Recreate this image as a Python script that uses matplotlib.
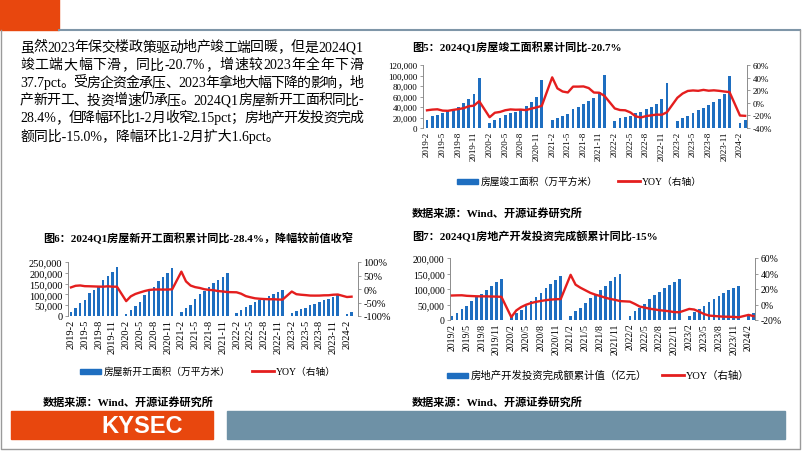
import numpy as np
import matplotlib
matplotlib.use('Agg')
import matplotlib.pyplot as plt
from matplotlib.patches import Rectangle
from matplotlib.lines import Line2D

W, H = 802, 452
CN = ['Liberation Serif', 'Noto Sans CJK SC']
plt.rcParams['font.family'] = CN

BLUE = '#1E6EC0'
RED = '#E41E1E'
GREY = '#8C8C8C'
ORANGE = '#E8470E'

# months Feb..Dec each year (no January data), then 2024-2, 2024-3
months = [(y, m) for y in range(2019, 2024) for m in range(2, 13)] + [(2024, 2), (2024, 3)]

# 房屋竣工面积（万平方米）, cumulative
completed = [15709, 22199, 25324, 28166, 32141, 35015, 39232, 47479, 55028, 63846, 95942,
             10286, 15557, 19286, 24842, 28766, 31163, 34995, 41971, 49965, 59173, 91218,
             15218, 19282, 22697, 26542, 36481, 40403, 45445, 51013, 57289, 68733, 101412,
             13906, 18331, 20344, 23140, 28636, 31063, 35856, 40879, 46565, 55709, 86222,
             13185, 19422, 22736, 27623, 33904, 38405, 43726, 48705, 55151, 65237, 99831,
             10395, 15534]
completed_yoy = [-11.9, -10.8, -10.3, -12.4, -12.7, -11.3, -10.0, -8.6, -5.5, -4.5, 2.6,
                 -22.9, -15.8, -14.5, -11.8, -10.5, -11.0, -10.8, -11.6, -9.2, -7.3, -4.9,
                 40.4, 22.9, 17.9, 16.4, 25.7, 25.7, 26.0, 23.4, 16.3, 16.0, 11.2,
                 -9.0, -11.5, -11.9, -15.3, -21.5, -23.3, -21.1, -19.9, -18.7, -19.0, -15.0,
                 8.0, 14.7, 18.8, 19.6, 19.0, 20.5, 19.2, 19.8, 19.0, 17.9, 17.0,
                 -20.2, -20.7]

# 房屋新开工面积（万平方米）
new_starts = [18814, 38728, 58002, 75945, 105509, 120296, 136549, 165707, 185634, 205194, 227154,
              10370, 28203, 47330, 66224, 97536, 115965, 133955, 162724, 181550, 201000, 224433,
              17038, 36163, 53000, 79000, 101000, 117000, 135000, 152944, 166736, 182820, 198895,
              15144, 29638, 39739, 51628, 66423, 76000, 85000, 94767, 103722, 111632, 120587,
              13567, 24121, 31400, 39000, 49880, 56969, 63891, 72123, 79177, 87456, 95376,
              9429, 17308]
new_starts_yoy = [6.0, 11.9, 13.1, 10.5, 10.1, 9.5, 8.9, 8.6, 10.0, 8.6, 8.5,
                  -44.9, -27.2, -18.4, -12.8, -7.6, -3.6, -1.9, -1.8, -2.2, -2.0, -1.2,
                  64.3, 28.2, 12.8, 6.9, 3.8, -0.9, -3.2, -4.5, -7.7, -9.1, -11.4,
                  -12.2, -17.5, -26.3, -30.6, -34.4, -36.1, -37.2, -38.0, -37.8, -38.9, -39.4,
                  -9.4, -19.2, -21.2, -22.6, -24.3, -24.5, -24.4, -23.4, -23.2, -21.2, -20.4,
                  -29.7, -28.4]

# 房地产开发投资完成额累计值（亿元）
investment = [12090, 23803, 34217, 46075, 61609, 72843, 84589, 98008, 109603, 121265, 132194,
              10115, 21963, 33103, 45920, 62780, 75325, 88454, 103484, 116556, 129492, 141443,
              13986, 27576, 40240, 54318, 72179, 84895, 98011, 110783, 124934, 137688, 147602,
              14499, 27765, 39154, 52134, 68314, 79462, 90809, 103559, 113945, 123863, 132895,
              13669, 25974, 35514, 45701, 58550, 67717, 76900, 87269, 95922, 104045, 110913,
              11842, 22082]
investment_yoy = [11.6, 11.8, 11.9, 11.2, 10.9, 10.6, 10.5, 10.5, 10.3, 10.2, 9.9,
                  -16.3, -7.7, -3.3, -0.3, 1.9, 3.4, 4.6, 5.6, 6.3, 6.8, 7.0,
                  38.3, 25.6, 21.6, 18.3, 15.0, 12.7, 10.9, 8.8, 7.2, 6.0, 4.4,
                  3.7, 0.7, -2.7, -4.0, -5.4, -6.4, -7.4, -8.0, -8.8, -9.8, -10.0,
                  -5.7, -6.5, -9.3, -12.3, -14.3, -14.8, -15.3, -15.7, -15.8, -16.0, -16.5,
                  -13.4, -15.0]

paragraph = ['虽然2023年保交楼政策驱动地产竣工端回暖，但是2024Q1',
             '竣工端大幅下滑，同比-20.7%，增速较2023年全年下滑',
             '37.7pct。受房企资金承压、2023年拿地大幅下降的影响，地',
             '产新开工、投资增速仍承压。2024Q1房屋新开工面积同比-',
             '28.4%，但降幅环比1-2月收窄2.15pct；房地产开发投资完成',
             '额同比-15.0%，降幅环比1-2月扩大1.6pct。']

pos = [(y - 2019) * 12 + (m - 2) for y, m in months]
tick_pos = list(range(0, 61, 3))

fig = plt.figure(figsize=(W / 100, H / 100), dpi=100)
bg = fig.add_axes([0, 0, 1, 1])
bg.set_xlim(0, W)
bg.set_ylim(H, 0)
bg.axis('off')


def px_axes(x0, y0, x1, y1):
    return fig.add_axes([x0 / W, 1 - y1 / H, (x1 - x0) / W, (y1 - y0) / H])


def tick_label(p, sep):
    return f'{2019 + (p + 1) // 12}{sep}{(p + 1) % 12 + 1}'


def draw_chart(box, xlim, bars, yoy, lmax, lstep, rlim, rstep, fs, sep):
    ax = px_axes(*box)
    ax.bar(pos, bars, width=0.55, color=BLUE, zorder=2)
    ax.set_xlim(*xlim)
    ax.set_ylim(0, lmax)
    ax.set_yticks(np.arange(0, lmax + 1, lstep))
    ax.yaxis.set_major_formatter(lambda v, _: f'{v:,.0f}')
    ax.set_xticks(tick_pos)
    ax.set_xticklabels([tick_label(p, sep) for p in tick_pos], rotation=90, fontsize=fs)
    ax.tick_params(axis='x', length=0, pad=2)
    ax.tick_params(axis='y', labelsize=fs, length=2.5, width=0.6, color=GREY, pad=1.5)
    for s in ['top', 'bottom', 'right']:
        ax.spines[s].set_visible(False)
    ax.spines['left'].set_color(GREY)
    ax.spines['left'].set_linewidth(0.7)
    ax.patch.set_alpha(0)

    ax2 = ax.twinx()
    ax2.plot(pos, yoy, color=RED, lw=1.7, solid_joinstyle='round', zorder=3)
    ax2.set_ylim(*rlim)
    ax2.set_yticks(np.arange(rlim[0], rlim[1] + 1, rstep))
    ax2.yaxis.set_major_formatter(lambda v, _: f'{v:.0f}%')
    ax2.tick_params(axis='y', labelsize=fs, length=2.5, width=0.6, color=GREY, pad=1.5)
    for s in ['top', 'bottom', 'left']:
        ax2.spines[s].set_visible(False)
    ax2.spines['right'].set_color(GREY)
    ax2.spines['right'].set_linewidth(0.7)
    return ax


def legend(xb, xl, y, label, fs):
    bg.add_patch(Rectangle((xb, y - 2.5), 21, 5, color=BLUE))
    bg.text(xb + 24, y, label, fontsize=fs, va='center', ha='left')
    bg.add_line(Line2D([xl, xl + 22], [y, y], color=RED, lw=2))
    bg.text(xl + 24, y, 'YOY（右轴）', fontsize=fs, va='center', ha='left')


# header and frame
bg.add_patch(Rectangle((0, 0), 59, 31, color=ORANGE))
bg.add_line(Line2D([59, 800], [31, 31], color='#7F96A8', lw=1.5))
bg.add_line(Line2D([1, 1, 800, 800], [31, 450, 450, 31], color='#9A9A9A', lw=1))

# paragraph, justified like the source
renderer = fig.canvas.get_renderer()


def tokens(s):
    out = []
    for ch in s:
        if ord(ch) < 128 and out and ord(out[-1][-1]) < 128:
            out[-1] += ch
        else:
            out.append(ch)
    return out


x_left, x_right = 20, 363
for i, line in enumerate(paragraph):
    y = 48 + i * 17.6
    if i == len(paragraph) - 1:
        bg.text(x_left, y, line, fontsize=10, va='center', ha='left')
        continue
    toks = tokens(line)
    objs = [bg.text(0, y, t, fontsize=10, va='center', ha='left') for t in toks]
    widths = [o.get_window_extent(renderer).width for o in objs]
    gap = (x_right - x_left - sum(widths)) / (len(toks) - 1)
    x = x_left
    for o, w in zip(objs, widths):
        o.set_x(x)
        x += w + gap

# chart 5
bg.text(412, 47, '图5：2024Q1房屋竣工面积累计同比-20.7%', fontsize=8, fontweight='bold', va='center')
draw_chart((423, 66, 747, 129), (-0.77, 61.35), completed, completed_yoy,
           120000, 20000, (-40, 60), 20, 6.5, '-')
legend(457, 618, 182, '房屋竣工面积（万平方米）', 7)
bg.text(412, 213, '数据来源：Wind、开源证券研究所', fontsize=8, fontweight='bold', va='center')

# chart 6
bg.text(43, 237, '图6：2024Q1房屋新开工面积累计同比-28.4%，降幅较前值收窄', fontsize=8,
        fontweight='bold', va='center')
draw_chart((68, 263, 358, 317), (-0.65, 62.4), new_starts, new_starts_yoy,
           250000, 50000, (-100, 100), 50, 7.5, '-')
legend(80, 252, 372, '房屋新开工面积（万平方米）', 7)
bg.text(43, 402, '数据来源：Wind、开源证券研究所', fontsize=8, fontweight='bold', va='center')

# chart 7
bg.text(412, 237, '图7：2024Q1房地产开发投资完成额累计同比-15%', fontsize=8, fontweight='bold', va='center')
draw_chart((450, 259, 755, 321), (-0.4, 61.3), investment, investment_yoy,
           200000, 50000, (-20, 60), 20, 7, '/')
legend(447, 662, 376, '房地产开发投资完成额累计值（亿元）', 7.5)
bg.text(412, 402, '数据来源：Wind、开源证券研究所', fontsize=8, fontweight='bold', va='center')

# footer
bg.add_patch(Rectangle((11, 412), 202, 28, color=ORANGE))
bg.add_patch(Rectangle((227, 412), 558, 28, color='#6E91A6'))
bg.text(142, 426.5, 'KYSEC', fontsize=17, fontweight='bold', color='white',
        family='Liberation Sans', ha='center', va='center')

fig.savefig('out.png', dpi=100)
